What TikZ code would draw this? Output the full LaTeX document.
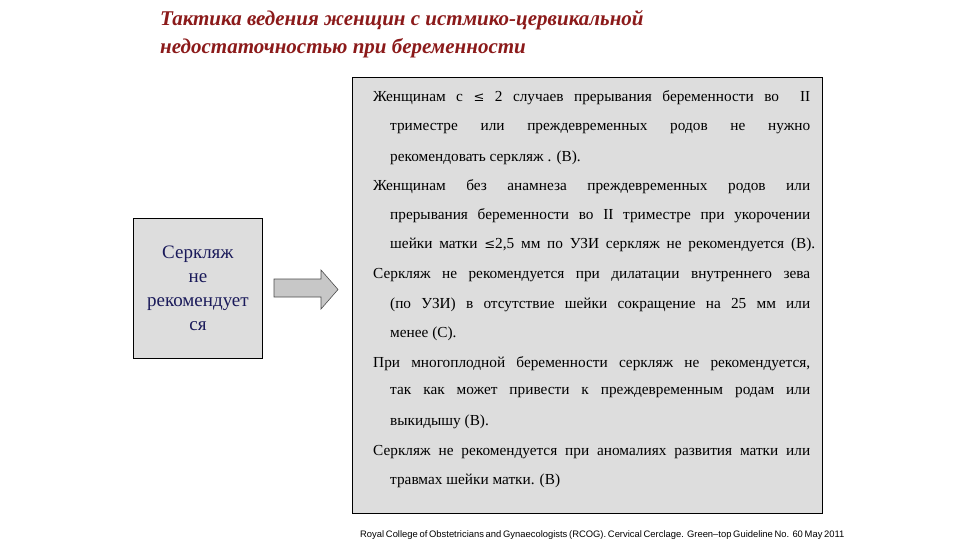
\documentclass[tikz,border=0pt]{standalone}
\usepackage{fontspec}
\setmainfont{Liberation Serif}
\newfontfamily\sansf{Liberation Sans}
\newfontfamily\symf{DejaVu Serif}
\definecolor{titlered}{HTML}{8B1A1A}
\definecolor{boxgray}{HTML}{DDDDDD}
\definecolor{navy}{HTML}{1A1A5A}
\newcommand{\jl}[2]{\makebox[#1][s]{#2}}
\newcommand{\lesym}{{\symf\fontsize{13}{15}\selectfont ≤}}
\begin{document}
\begin{tikzpicture}[x=1pt,y=-1pt,
  ln/.style={anchor=west,inner sep=0pt,font=\fontsize{15.3}{17}\selectfont},
  panel/.style={draw=black,fill=boxgray,line width=0.8pt}]
\useasboundingbox (0,0) rectangle (960,540);
\node[anchor=west,inner sep=0pt,text=titlered,font=\fontsize{21}{24}\selectfont\bfseries\itshape] (t1) at (160,20) {Тактика ведения женщин с истмико-цервикальной};
\node[anchor=west,inner sep=0pt,text=titlered,font=\fontsize{21}{24}\selectfont\bfseries\itshape] (t2) at (160,48) {недостаточностью при беременности};
\draw[panel] (352,77) rectangle (822,513);
\node[panel,minimum width=129pt,minimum height=140pt,anchor=north west,inner sep=0pt] (lb) at (133,218) {};
\node[text=navy,align=center,font=\fontsize{19}{24}\selectfont] (lt) at (lb.center) {Серкляж\\не\\рекомендует\\ся};
\draw[draw=black!70,fill=black!22,line width=0.6pt] (274,279) -- (321,279) -- (321,270) -- (338,289.5) -- (321,309) -- (321,297) -- (274,297) -- cycle;
\node[ln] (l1) at (373,98) {\jl{437pt}{Женщинам с \lesym{} 2 случаев прерывания беременности во \ II}};
\node[ln] (l2) at (390,129) {\jl{420pt}{триместре или преждевременных родов не нужно}};
\node[ln] (l3) at (390,158) {рекомендовать серкляж . (В).};
\node[ln] (l4) at (373,187) {\jl{437pt}{Женщинам без анамнеза преждевременных родов или}};
\node[ln] (l5) at (390,216) {\jl{420pt}{прерывания беременности во II триместре при укорочении}};
\node[ln] (l6) at (390,245) {\jl{425pt}{шейки матки \lesym2,5 мм по УЗИ серкляж не рекомендуется (В).}};
\node[ln] (l7) at (373,275) {\jl{437pt}{Серкляж не рекомендуется при дилатации внутреннего зева}};
\node[ln] (l8) at (390,305) {\jl{420pt}{(по УЗИ) в отсутствие шейки сокращение на 25 мм или}};
\node[ln] (l9) at (390,334) {менее (С).};
\node[ln] (l10) at (373,364) {\jl{437pt}{При многоплодной беременности серкляж не рекомендуется,}};
\node[ln] (l11) at (390,393) {\jl{420pt}{так как может привести к преждевременным родам или}};
\node[ln] (l12) at (390,422) {выкидышу (В).};
\node[ln] (l13) at (373,452) {\jl{437pt}{Серкляж не рекомендуется при аномалиях развития матки или}};
\node[ln] (l14) at (390,481) {травмах шейки матки. (В)};
\node[anchor=west,inner sep=0pt,font=\sansf\fontsize{9.4}{10}\selectfont] (ft) at (360,535) {\makebox[477pt][s]{Royal College of Obstetricians and Gynaecologists (RCOG). Cervical Cerclage. Green–top Guideline No. 60 May 2011}};
\end{tikzpicture}
\end{document}
